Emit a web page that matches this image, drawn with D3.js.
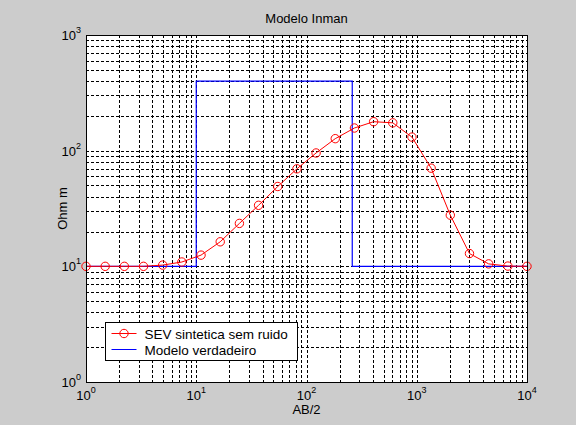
<!DOCTYPE html>
<html>
<head>
<meta charset="utf-8">
<script src="https://cdn.jsdelivr.net/npm/d3@7"></script>
<style>
  html, body { margin: 0; padding: 0; background: #cccccc; }
  svg { display: block; font-family: "Liberation Sans", Arial, sans-serif; }
</style>
</head>
<body>
<div id="chart"></div>
<script>
(function () {
  "use strict";

  // synthetic sounding: AB/2 (m) and apparent resistivity (Ohm m)
  const abHalf = d3.range(24).map((i) => Math.pow(10, (4 * i) / 23));
  const rhoApparent = [
    10, 10, 10, 10, 10.25, 10.9, 12.5, 16.3, 23.5, 33.7, 49, 69.7,
    95.5, 127, 157, 178, 174, 131, 70.6, 27.7, 12.9, 10.5, 10.05, 10
  ];

  // true layered model: depth breaks and resistivities
  const modelDepths = [1, 10, 10, 260, 260, 10000];
  const modelRho = [10, 10, 400, 400, 10, 10];

  const xDomain = [1, 10000];
  const yDomain = [1, 1000];
  const xDecades = [0, 1, 2, 3, 4];
  const yDecades = [0, 1, 2, 3];

  const titleText = "Modelo Inman";
  const xLabelText = "AB/2";
  const yLabelText = "Ohm m";
  const legendLabels = ["SEV sintetica sem ruido", "Modelo verdadeiro"];

  const width = 576;
  const height = 425;
  const margin = { top: 35, right: 49, bottom: 43, left: 86 };
  const innerW = width - margin.left - margin.right;
  const innerH = height - margin.top - margin.bottom;

  const svg = d3.select("#chart")
    .append("svg")
    .attr("width", width)
    .attr("height", height);

  svg.append("rect")
    .attr("width", width)
    .attr("height", height)
    .attr("fill", "#cccccc");

  const x = d3.scaleLog().domain(xDomain).range([0, innerW]);
  const y = d3.scaleLog().domain(yDomain).range([innerH, 0]);

  const g = svg.append("g")
    .attr("transform", `translate(${margin.left},${margin.top})`);

  g.append("rect")
    .attr("width", innerW)
    .attr("height", innerH)
    .attr("fill", "#ffffff");

  // major + minor grid (dotted, MATLAB style)
  function gridValues(domain) {
    const vals = [];
    const lo = Math.log10(domain[0]);
    const hi = Math.log10(domain[1]);
    for (let e = lo; e < hi; e += 1) {
      for (let m = 1; m <= 9; m += 1) {
        const v = m * Math.pow(10, e);
        if (v > domain[0]) vals.push(v);
      }
    }
    return vals;
  }

  const grid = g.append("g").attr("class", "grid");

  grid.selectAll("line.gx")
    .data(gridValues(xDomain))
    .join("line")
    .attr("class", "gx")
    .attr("x1", (d) => Math.round(x(d)) + 0.5)
    .attr("x2", (d) => Math.round(x(d)) + 0.5)
    .attr("y1", 0)
    .attr("y2", innerH)
    .attr("stroke", "#000")
    .attr("stroke-width", 1)
    .attr("stroke-dasharray", "3,2")
    .attr("shape-rendering", "crispEdges");

  grid.selectAll("line.gy")
    .data(gridValues(yDomain))
    .join("line")
    .attr("class", "gy")
    .attr("x1", 0)
    .attr("x2", innerW)
    .attr("y1", (d) => Math.round(y(d)) + 0.5)
    .attr("y2", (d) => Math.round(y(d)) + 0.5)
    .attr("stroke", "#000")
    .attr("stroke-width", 1)
    .attr("stroke-dasharray", "3,2")
    .attr("shape-rendering", "crispEdges");

  // true model
  const modelPts = modelDepths.map((d, i) => [d, modelRho[i]]);
  const line = d3.line().x((d) => x(d[0])).y((d) => y(d[1]));

  g.append("path")
    .datum(modelPts)
    .attr("d", line)
    .attr("fill", "none")
    .attr("stroke", "#0000ff")
    .attr("stroke-width", 1.2);

  // synthetic sounding
  const sevPts = abHalf.map((d, i) => [d, rhoApparent[i]]);

  g.append("path")
    .datum(sevPts)
    .attr("d", line)
    .attr("fill", "none")
    .attr("stroke", "#ff0000")
    .attr("stroke-width", 1);

  g.selectAll("circle.sev")
    .data(sevPts)
    .join("circle")
    .attr("class", "sev")
    .attr("cx", (d) => x(d[0]))
    .attr("cy", (d) => y(d[1]))
    .attr("r", 4.2)
    .attr("fill", "none")
    .attr("stroke", "#ff0000")
    .attr("stroke-width", 1);

  // frame
  g.append("rect")
    .attr("x", 0.5)
    .attr("y", 0.5)
    .attr("width", innerW)
    .attr("height", innerH)
    .attr("fill", "none")
    .attr("stroke", "#000")
    .attr("stroke-width", 1)
    .attr("shape-rendering", "crispEdges");

  // tick labels 10^n
  const xTicks = svg.append("g").attr("font-size", 13).attr("fill", "#000");
  xDecades.forEach((e) => {
    const t = xTicks.append("text")
      .attr("x", margin.left + x(Math.pow(10, e)))
      .attr("y", margin.top + innerH + 18)
      .attr("text-anchor", "middle");
    t.append("tspan").text("10");
    t.append("tspan").attr("font-size", 9).attr("dy", -7).text(String(e));
  });

  const yTicks = svg.append("g").attr("font-size", 13).attr("fill", "#000");
  yDecades.forEach((e) => {
    const t = yTicks.append("text")
      .attr("x", margin.left - 5)
      .attr("y", margin.top + y(Math.pow(10, e)) + 5)
      .attr("text-anchor", "end");
    t.append("tspan").text("10");
    t.append("tspan").attr("font-size", 9).attr("dy", -7).text(String(e));
  });

  // title and axis labels
  svg.append("text")
    .attr("x", margin.left + innerW / 2)
    .attr("y", 23)
    .attr("text-anchor", "middle")
    .attr("font-size", 13)
    .text(titleText);

  svg.append("text")
    .attr("x", margin.left + innerW / 2)
    .attr("y", 414)
    .attr("text-anchor", "middle")
    .attr("font-size", 13)
    .text(xLabelText);

  svg.append("text")
    .attr("transform", `translate(67,${margin.top + innerH / 2}) rotate(-90)`)
    .attr("text-anchor", "middle")
    .attr("font-size", 13)
    .text(yLabelText);

  // legend
  const legend = svg.append("g").attr("transform", "translate(105.5,322.5)");
  legend.append("rect")
    .attr("width", 192)
    .attr("height", 38)
    .attr("fill", "#ffffff")
    .attr("stroke", "#000")
    .attr("stroke-width", 1);

  const legendColors = ["#ff0000", "#0000ff"];
  legendLabels.forEach((label, i) => {
    const ly = 11 + i * 16;
    legend.append("line")
      .attr("x1", 6)
      .attr("x2", 31)
      .attr("y1", ly)
      .attr("y2", ly)
      .attr("stroke", legendColors[i])
      .attr("stroke-width", 1);
    if (i === 0) {
      legend.append("circle")
        .attr("cx", 18.5)
        .attr("cy", ly)
        .attr("r", 4.2)
        .attr("fill", "none")
        .attr("stroke", "#ff0000");
    }
    legend.append("text")
      .attr("x", 39)
      .attr("y", ly + 5)
      .attr("font-size", 13.5)
      .text(label);
  });
})();
</script>
</body>
</html>
